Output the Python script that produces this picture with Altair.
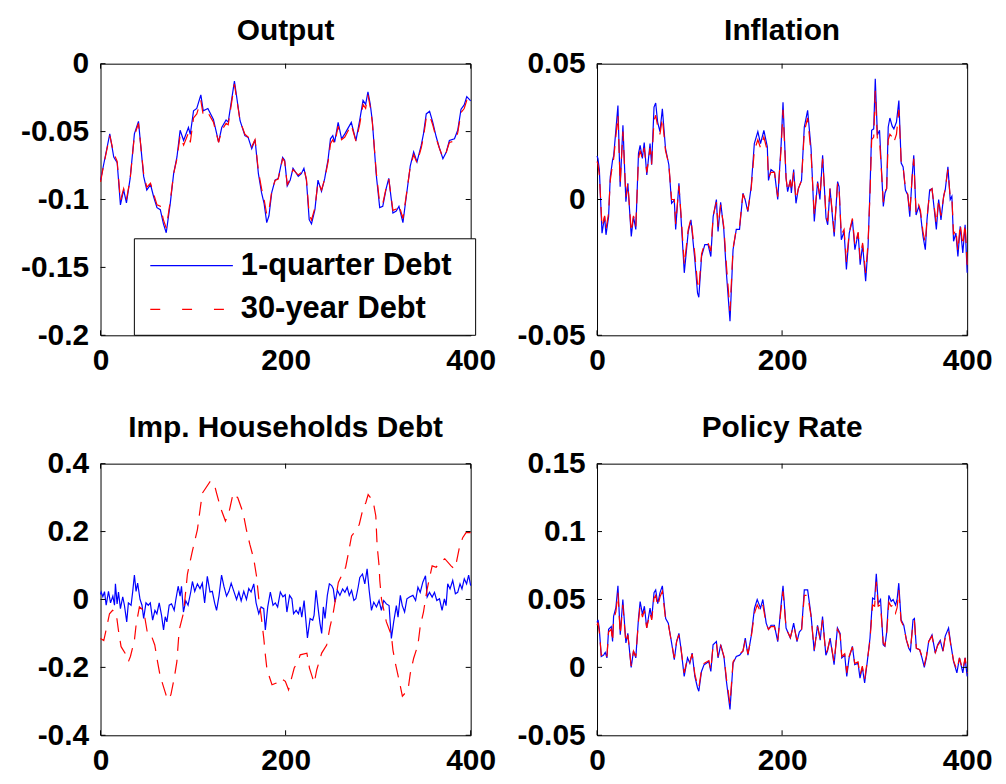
import altair as alt
import pandas as pd

# ---------------- data ----------------
XTICKS = [0, 200, 400]

# Output
out_t = [0, 3.6, 10, 14.3, 18, 21.5, 25, 28, 32, 36.6,
         41, 46.6, 50, 54, 57.4, 61, 64.6, 68, 71, 75.4,
         79, 82.6, 86, 89.8, 95, 97, 100.5, 104, 108.4, 111,
         116, 122, 127.6, 131, 135.7, 138, 144.7, 150.8, 156, 159.6,
         163.4, 167, 170.6, 174, 176.8, 179.6, 182, 185, 188.6, 192,
         196.8, 199, 201.8, 205, 208, 213.7, 217, 219.8, 222.5, 225.5,
         228, 231.7, 235, 238.8, 242.3, 246, 248.5, 251, 253, 256.8,
         260.5, 264, 271, 276, 280, 283.7, 286.5, 289, 291.5, 293.7,
         298, 301.7, 305, 308.8, 311.5, 316, 319.6, 322.5, 326.8, 330.4,
         334.7, 338.4, 342, 346.6, 349, 352, 355.6, 359, 362.8, 366,
         370, 373.7, 377, 382.5, 386, 389.6, 393, 395.8, 400]
out_short = [-0.086, -0.0735, -0.0517, -0.0687, -0.073, -0.104, -0.093, -0.1025, -0.0845, -0.0517,
             -0.0425, -0.083, -0.093, -0.089, -0.098, -0.106, -0.1075, -0.118, -0.1245, -0.1027,
             -0.081, -0.0687, -0.049, -0.0566, -0.047, -0.052, -0.0347, -0.033, -0.023, -0.0347,
             -0.033, -0.041, -0.0578, -0.047, -0.0415, -0.043, -0.0128, -0.042, -0.053, -0.0544,
             -0.0626, -0.056, -0.081, -0.095, -0.103, -0.117, -0.112, -0.095, -0.0857, -0.0845,
             -0.069, -0.071, -0.090, -0.0857, -0.077, -0.083, -0.081, -0.077, -0.0857, -0.1148,
             -0.118, -0.1075, -0.0857, -0.094, -0.0845, -0.07, -0.0553, -0.053, -0.0578, -0.0432,
             -0.0553, -0.0517, -0.0432, -0.0566, -0.042, -0.027, -0.030, -0.0207, -0.030, -0.042,
             -0.082, -0.106, -0.105, -0.0917, -0.0845, -0.110, -0.1085, -0.105, -0.117, -0.098,
             -0.0755, -0.065, -0.0723, -0.060, -0.0517, -0.037, -0.035, -0.043, -0.054, -0.0615,
             -0.07, -0.065, -0.0566, -0.0553, -0.049, -0.0335, -0.0304, -0.0243, -0.0274]
out_long = [-0.087, -0.074, -0.053, -0.066, -0.072, -0.101, -0.092, -0.100, -0.085, -0.053,
            -0.044, -0.081, -0.091, -0.088, -0.096, -0.104, -0.105, -0.115, -0.121, -0.101,
            -0.081, -0.070, -0.053, -0.060, -0.051, -0.058, -0.040, -0.037, -0.027, -0.038,
            -0.036, -0.043, -0.058, -0.049, -0.044, -0.045, -0.015, -0.042, -0.052, -0.054,
            -0.061, -0.056, -0.079, -0.092, -0.100, -0.111, -0.108, -0.094, -0.086, -0.085,
            -0.070, -0.072, -0.089, -0.085, -0.078, -0.082, -0.080, -0.077, -0.085, -0.111,
            -0.115, -0.106, -0.087, -0.093, -0.085, -0.072, -0.059, -0.056, -0.059, -0.046,
            -0.056, -0.054, -0.045, -0.057, -0.045, -0.030, -0.033, -0.023, -0.032, -0.043,
            -0.080, -0.103, -0.103, -0.091, -0.085, -0.108, -0.107, -0.104, -0.114, -0.097,
            -0.076, -0.067, -0.073, -0.062, -0.054, -0.040, -0.038, -0.045, -0.055, -0.062,
            -0.069, -0.065, -0.058, -0.057, -0.051, -0.036, -0.033, -0.027, -0.029]

# Inflation
inf_t = [0, 1, 2.5, 5.4, 8.2, 9.7, 12.5, 14.3, 16.8, 18,
         22.6, 25, 28, 31.2, 33.3, 37, 39.4, 41.9, 44.8, 46.6,
         49, 51, 53.8, 57.3, 59, 61.6, 63.4, 65.5, 68, 70.6,
         74, 77.6, 80.6, 83.5, 85, 88.5, 90.7, 94.3, 98.6, 101.5,
         105.7, 108.6, 110, 113, 116.5, 120, 123, 125.5, 129, 130.8,
         133.6, 137, 139.8, 143.7, 147, 150.5, 154, 157.7, 160, 163,
         166.6, 170, 173.8, 176.7, 180.3, 184, 185.3, 188, 191.8, 195.3,
         199, 201, 204.3, 206, 209, 210, 212.5, 215, 217.6, 221,
         224, 227.6, 231.3, 234.8, 238.4, 240.9, 243.8, 247.5, 249.3, 251.8,
         256.3, 260, 261.6, 264, 267, 269.5, 272.6, 276, 278.7, 282.2,
         284.4, 287, 290.3, 292.9, 295, 296.8, 299, 300.7, 303, 305.3,
         309.4, 311.2, 313, 314.7, 316.5, 319, 320.8, 323.6, 326.2, 328.7,
         330.8, 333.3, 335.8, 338, 340.5, 342.3, 344.8, 347.7, 349.5, 352.3,
         354.8, 356.6, 359.5, 362, 364.5, 366.7, 369.2, 371.7, 374.6, 376.3,
         379.2, 381.7, 383.5, 385.3, 387.8, 390, 392.5, 395.3, 397.8, 400]
inf_short = [0.016, 0.015, 0.011, -0.0124, -0.0063, -0.013, -0.0063, 0.0083, 0.0145, 0.016,
             0.0346, 0.0047, 0.0273, -0.0008, 0.006, -0.0136, -0.0063, -0.011, 0.0169, 0.0199,
             0.0151, 0.021, 0.009, 0.0206, 0.0128, 0.034, 0.0355, 0.0285, 0.025, 0.0334,
             0.0188, 0.0128, -0.0014, -0.0002, -0.011, 0.006, -0.0063, -0.027, -0.0118, -0.0075,
             -0.0222, -0.0344, -0.036, -0.0209, -0.0166, -0.0166, -0.021, -0.0063, 0.0, -0.0118,
             -0.001, -0.011, -0.027, -0.0448, -0.0185, -0.011, -0.011, 0.0023, 0.0, -0.0045,
             0.0047, 0.0206, 0.025, 0.0206, 0.0254, 0.0195, 0.007, 0.011, 0.010, 0.0,
             0.0206, 0.0358, 0.0078, 0.0029, 0.0073, 0.0024, 0.011, -0.0014, 0.004, 0.007,
             0.0267, 0.0328, 0.0188, -0.0081, 0.0066, 0.0, 0.0163, -0.0069, -0.0093, 0.004,
             -0.0136, 0.0066, 0.0047, -0.0148, -0.0118, -0.0258, -0.0124, -0.0075, -0.0185, -0.0124,
             -0.024, -0.0166, -0.0301, -0.0173, 0.0035, 0.0255, 0.026, 0.0444, 0.0237, 0.0255,
             -0.0026, 0.0024, 0.004, 0.0267, 0.030, 0.027, 0.026, 0.0285, 0.0364, 0.0134,
             0.012, 0.0035, 0.0017, -0.0063, 0.0083, 0.0163, -0.0057, -0.0026, -0.005, -0.0136,
             -0.0185, -0.0075, 0.0035, 0.004, -0.0038, -0.011, 0.0, -0.0075, 0.0012, 0.0035,
             0.012, 0.0, 0.0012, -0.0154, -0.0124, -0.021, -0.0099, -0.0197, -0.0093, -0.027]
inf_long = [0.014, 0.013, 0.009, -0.010, -0.006, -0.011, -0.005, 0.007, 0.013, 0.015,
            0.031, 0.006, 0.025, 0.001, 0.006, -0.012, -0.006, -0.010, 0.015, 0.018,
            0.015, 0.019, 0.010, 0.019, 0.013, 0.029, 0.031, 0.027, 0.024, 0.030,
            0.018, 0.013, 0.000, 0.000, -0.009, 0.005, -0.005, -0.024, -0.011, -0.007,
            -0.020, -0.031, -0.033, -0.020, -0.016, -0.016, -0.019, -0.006, -0.001, -0.010,
            -0.002, -0.010, -0.024, -0.041, -0.018, -0.011, -0.010, 0.002, 0.000, -0.004,
            0.004, 0.018, 0.022, 0.019, 0.023, 0.018, 0.008, 0.010, 0.010, 0.001,
            0.019, 0.033, 0.008, 0.003, 0.007, 0.003, 0.010, 0.000, 0.004, 0.007,
            0.025, 0.030, 0.017, -0.006, 0.006, 0.001, 0.015, -0.006, -0.008, 0.004,
            -0.012, 0.006, 0.004, -0.013, -0.011, -0.023, -0.012, -0.007, -0.017, -0.012,
            -0.022, -0.016, -0.027, -0.016, 0.002, 0.022, 0.023, 0.040, 0.022, 0.022,
            -0.001, 0.003, 0.004, 0.022, 0.024, 0.023, 0.021, 0.024, 0.033, 0.014,
            0.012, 0.004, 0.002, -0.005, 0.008, 0.015, -0.005, -0.002, -0.004, -0.012,
            -0.016, -0.007, 0.003, 0.004, -0.003, -0.009, 0.000, -0.006, 0.001, 0.004,
            0.011, 0.001, 0.001, -0.013, -0.011, -0.019, -0.009, -0.017, -0.009, -0.024]

# Impatient households debt
debt_short_t = [0, 0.7, 2.5, 4.3, 6.1, 8.6, 10.8, 13.3, 15.1, 16.1, 17.9,
                19.4, 21.5, 24, 25.8, 28.3, 30.1, 33, 34.8, 36.6, 38.4,
                40.1, 42.7, 44.8, 46.6, 49.1, 51.6, 53.8, 56.3, 58.8, 60.9,
                63.4, 65.9, 68.1, 69.9, 71.7, 74.2, 76.7, 79.6, 81.4, 83.9,
                86, 87.5, 89.6, 92.1, 94.6, 97.5, 99.3, 101.8, 104.7, 107.5,
                110, 112.5, 115.4, 118.3, 120.8, 123.3, 125.4, 128, 130.8, 133.3,
                136.2, 138.7, 141.2, 144.1, 147, 149.5, 152, 154.8, 157.7, 160.2,
                162.7, 165.6, 168.1, 171, 173.5, 176.4, 178.1, 180.7, 183.5, 186.4,
                188.9, 191.4, 194.3, 197.1,
                199.6, 201.4, 204.3, 206.8, 208.6, 211.4, 213.9, 215.7, 217.5, 220,
                223.6, 226.5, 229.3, 230.8, 232.9, 235.4, 237.2, 239, 240.8, 242.6,
                245.1, 247.3, 249.8, 251.6, 253.4, 255.9, 258.7, 261.6, 264.1, 266.6,
                268.8, 271.3, 273.8, 275.9, 278.4, 280.2, 283.1, 285.6, 288.1, 290.3,
                292.8, 295.3, 298.2, 301, 303.5, 306, 308.9, 311.8, 314.3, 316.8,
                319.7, 321.5, 324, 326.1, 328.6, 331.1, 334, 337.6, 340.5, 343,
                345.5, 348.3, 351.2, 353, 355.5, 358.4, 360.9, 363.4, 366.3, 369.1,
                371.6, 373.4, 375.2, 377.7, 380.6, 383.5, 386, 388.5, 390.6, 393.1,
                395.6, 397.8, 400]
debt_short = [0.015, 0.022, 0.008, 0.023, -0.017, 0.024, -0.01, 0.01, -0.017, 0.046, -0.013,
              0.022, -0.027, 0.008, -0.017, -0.066, -0.01, -0.017, 0.024, 0.072, 0.024,
              0.048, 0.0, -0.017, -0.056, -0.01, -0.017, -0.01, -0.061, -0.032, -0.042,
              -0.01, -0.046, -0.09, -0.051, -0.066, -0.017, -0.013, -0.032, 0.0, 0.039,
              0.01, 0.039, -0.037, -0.004, -0.017, 0.022, 0.053, 0.024, 0.046, 0.032,
              0.048, -0.01, 0.068, 0.022, 0.024, -0.01, -0.032, 0.01, 0.072, 0.039,
              0.01, 0.024, 0.048, 0.024, 0.0, 0.022, -0.004, 0.024, 0.0, 0.032,
              0.022, 0.046, -0.01, -0.042, -0.022, -0.027, -0.09, -0.022, 0.022, -0.017,
              -0.01, -0.022, 0.022, 0.008,
              0.014, -0.037, 0.012, 0.002, -0.042, -0.032, -0.042, -0.022, -0.052, -0.003,
              -0.113, -0.056, -0.061, -0.046, 0.027, -0.032, -0.071, -0.1, -0.022, -0.056,
              0.012, 0.046, 0.041, 0.031, -0.008, 0.027, 0.012, 0.031, 0.021, 0.036,
              0.012, 0.027, -0.003, 0.002, 0.036, 0.065, 0.075, 0.046, 0.09, 0.027,
              -0.032, -0.008, -0.022, -0.003, -0.032, -0.003, -0.013, -0.018, -0.115, -0.066,
              -0.018, -0.052, 0.012, -0.018, -0.037, 0.002, 0.007, 0.012, -0.003, 0.036,
              0.021, 0.051, 0.07, 0.007, 0.021, 0.007, 0.021, -0.003, 0.002, -0.032,
              0.002, -0.018, 0.046, 0.031, 0.056, 0.017, 0.021, 0.046, 0.031, 0.061,
              0.046, 0.072, 0.041]
debt_long_t = [0, 3.5, 6, 9.7, 13, 16.8, 19.3, 22.2, 27.6, 30.1,
               32.3, 36.6, 38.4, 42, 46.6, 50.9, 55, 58.6, 61.6, 64.5,
               69.5, 72.4, 76, 79.6, 82.5, 85, 89.8, 93.9, 99.3, 104.7,
               107.6, 110, 118.3, 122.6, 125.4, 129.7, 135, 138.7, 143.3, 148.4,
               154.1, 157.6, 161.3, 165.6, 168.5, 171, 173.5, 176.4, 178.1, 179.9,
               185.3, 190, 195, 199.7, 203.2, 209.3, 214, 215.8, 223, 225.8,
               230.9, 233.7, 239, 244.4, 248, 251.6, 257, 264.9, 267.7, 271.3,
               276.7, 279.6, 283.9, 286.7, 289.2, 294.6, 297.5, 298.9, 301, 301.8,
               303.6, 308.9, 314.3, 316, 319, 323.3, 326.2, 332.3, 334.8, 338.4,
               343, 345.4, 349, 352.6, 354.8, 358.4, 362.7, 366.3, 372, 378.8,
               382.4, 384.2, 387.8, 391.4, 395, 400]
debt_long = [-0.115, -0.121, -0.09, -0.042, -0.032, -0.038, -0.09, -0.139, -0.163, -0.183,
             -0.168, -0.12, -0.076, -0.022, -0.032, -0.103, -0.107, -0.134, -0.183, -0.226,
             -0.27, -0.295, -0.281, -0.232, -0.183, -0.09, -0.038, 0.075, 0.143, 0.206,
             0.265, 0.313, 0.347, 0.343, 0.313, 0.27, 0.231, 0.255, 0.313, 0.299,
             0.255, 0.206, 0.163, 0.119, 0.07, 0.002, -0.046, -0.114, -0.163, -0.207,
             -0.251, -0.246, -0.232, -0.241, -0.266, -0.202, -0.178, -0.163, -0.158, -0.202,
             -0.246, -0.207, -0.158, -0.134, -0.081, -0.037, 0.05, 0.095, 0.134, 0.187,
             0.206, 0.221, 0.27, 0.285, 0.309, 0.289, 0.246, 0.159, 0.10, 0.056,
             0.002, -0.066, -0.105, -0.149, -0.193, -0.246, -0.285, -0.266, -0.217, -0.173,
             -0.134, -0.081, -0.037, 0.025, 0.054, 0.099, 0.095, 0.109, 0.12, 0.099,
             0.09, 0.104, 0.153, 0.182, 0.197, 0.197]

# Policy rate
pol_t = [0, 1.1, 2.5, 4.6, 7.1, 8.9, 10.7, 12.5, 15.4, 16.8,
         17.9, 20.4, 22.6, 25.1, 27.9, 31.2, 33.3, 36.9, 39.4, 41.9,
         44.8, 46.6, 49.1, 51.2, 53.7, 57.3, 59.1, 61.6, 63.4, 65.6,
         68.1, 70.6, 74.2, 77, 80.6, 83.5, 86, 88.5, 90.7, 94.2,
         97.8, 100.3, 102.8, 105.7, 108.6, 110, 112.9, 115.7, 118.3, 120.8,
         123, 125.4, 129, 130.8, 133.7, 137.3, 139.8, 143.7, 147, 150.5,
         154.1, 157.7, 160.2, 163.1, 166.6, 170.2, 173.1, 176.7, 179.2, 182.8,
         185.3, 188.1, 191.7, 195.3, 198.9, 201, 204.3, 206.1, 208.9, 212.5,
         216.1, 218.6, 221.1, 224, 227.6, 231.2, 234.7, 238.3, 241.2, 243.7,
         247.3, 249.1, 251.9, 256.2, 259.8, 262.7, 264.5, 267.7, 269.9, 272.4,
         276, 278.5, 282.1, 284.2, 286.7, 289.2, 292.1, 295, 297.8, 300,
         301.8, 303.9, 306.4, 309.3, 311.1, 312.9, 315.4, 317.9, 320, 322.6,
         324.3, 326.1, 328.6, 331.5, 334.4, 336.9, 338.7, 341.5, 343, 345.1,
         348.7, 351.2, 353.7, 355.9, 358.4, 362, 365.6, 368.1, 370.9, 373.8,
         376.3, 379.9, 382.4, 385.3, 388.9, 391.7, 395.3, 397.8, 400]
pol_short = [0.033, 0.035, 0.028, 0.008, 0.009, 0.011, 0.007, 0.028, 0.030, 0.019,
             0.0375, 0.044, 0.060, 0.024, 0.050, 0.018, 0.025, 0.0, 0.012, 0.007,
             0.036, 0.0485, 0.039, 0.045, 0.029, 0.0436, 0.036, 0.055, 0.057, 0.047,
             0.055, 0.060, 0.036, 0.0326, 0.018, 0.0056, 0.019, 0.025, 0.014, -0.0066,
             0.007, 0.003, 0.0105, -0.0066, -0.015, -0.0176, -0.003, 0.002, 0.003, 0.0044,
             -0.003, 0.0167, 0.019, 0.007, 0.0167, 0.007, -0.010, -0.031, 0.003, 0.008,
             0.009, 0.012, 0.0216, 0.009, 0.023, 0.0436, 0.050, 0.0436, 0.050, 0.0326,
             0.028, 0.031, 0.031, 0.019, 0.046, 0.060, 0.029, 0.026, 0.0216, 0.0326,
             0.019, 0.026, 0.028, 0.057, 0.057, 0.039, 0.012, 0.031, 0.020, 0.0375,
             0.009, 0.012, 0.0216, 0.002, 0.029, 0.025, 0.007, 0.009, -0.0066, 0.007,
             0.0155, 0.002, 0.003, -0.008, 0.0, -0.0115, 0.0044, 0.0216, 0.051, 0.050,
             0.069, 0.047, 0.050, 0.0167, 0.0155, 0.025, 0.053, 0.0485, 0.050, 0.046,
             0.050, 0.062, 0.035, 0.031, 0.020, 0.014, 0.012, 0.035, 0.036, 0.014,
             0.013, 0.007, 0.0, 0.007, 0.019, 0.024, 0.0105, 0.0167, 0.020, 0.012,
             0.023, 0.029, 0.0167, 0.0044, -0.004, 0.007, -0.004, 0.007, -0.0066]
pol_long = [0.031, 0.033, 0.026, 0.009, 0.010, 0.012, 0.008, 0.026, 0.028, 0.019,
            0.035, 0.041, 0.055, 0.024, 0.046, 0.018, 0.024, 0.001, 0.012, 0.008,
            0.034, 0.045, 0.037, 0.042, 0.029, 0.040, 0.035, 0.051, 0.053, 0.045,
            0.052, 0.056, 0.035, 0.032, 0.018, 0.007, 0.019, 0.024, 0.014, -0.004,
            0.007, 0.004, 0.010, -0.005, -0.013, -0.015, -0.002, 0.003, 0.004, 0.005,
            -0.002, 0.016, 0.018, 0.008, 0.016, 0.008, -0.008, -0.027, 0.004, 0.008,
            0.010, 0.012, 0.020, 0.010, 0.022, 0.040, 0.046, 0.041, 0.046, 0.032,
            0.028, 0.030, 0.030, 0.020, 0.043, 0.056, 0.029, 0.026, 0.022, 0.031,
            0.020, 0.026, 0.028, 0.053, 0.053, 0.038, 0.013, 0.030, 0.021, 0.035,
            0.010, 0.013, 0.021, 0.004, 0.028, 0.024, 0.008, 0.010, -0.004, 0.008,
            0.015, 0.003, 0.004, -0.006, 0.001, -0.009, 0.005, 0.020, 0.046, 0.045,
            0.063, 0.045, 0.046, 0.018, 0.016, 0.024, 0.048, 0.045, 0.046, 0.040,
            0.044, 0.057, 0.034, 0.030, 0.020, 0.015, 0.013, 0.033, 0.034, 0.014,
            0.013, 0.008, 0.002, 0.008, 0.019, 0.023, 0.011, 0.016, 0.019, 0.012,
            0.022, 0.027, 0.016, 0.005, -0.002, 0.007, -0.002, 0.007, -0.004]

SERIES = ["1-quarter Debt", "30-year Debt"]

# ---------------- chart ----------------
W, H = 372, 273
FONT = "Liberation Sans"
BLUE, RED = "#0000ff", "#ff0000"
LEXPR = "replace(format(datum.value, '~g'), '\u2212', '-')"


def axis(values, pad):
    return alt.Axis(values=values, labelExpr=LEXPR, domain=False, ticks=False,
                    grid=False, title=None, labelPadding=pad, labelFontSize=30,
                    labelFont=FONT, labelFontWeight="bold", labelColor="black",
                    labelFlush=False, labelOverlap=False)


def panel(title, tb, vb, tr, vr, ydom, yticks, toff, legend=False):
    xs = alt.Scale(domain=[0, 400], nice=False, zero=False)
    ys = alt.Scale(domain=ydom, nice=False, zero=False)
    xax = axis(XTICKS, 10)
    yax = axis(yticks, 12)
    X = alt.X("t:Q", scale=xs, axis=xax)
    Y = alt.Y("v:Q", scale=ys, axis=yax)
    blue = alt.Chart(pd.DataFrame({"t": tb, "v": vb})).mark_line(
        color=BLUE, strokeWidth=1.2).encode(x=X, y=Y)
    red = alt.Chart(pd.DataFrame({"t": tr, "v": vr})).mark_line(
        color=RED, strokeWidth=1.2, strokeDash=[14, 9]).encode(x=X, y=Y)
    ydf = pd.DataFrame({"v": yticks})
    xdf = pd.DataFrame({"t": XTICKS})
    tl = alt.Chart(ydf).mark_rule(color="black").encode(y=Y, x=alt.value(0), x2=alt.value(5))
    tr_ = alt.Chart(ydf).mark_rule(color="black").encode(y=Y, x=alt.value(W - 5), x2=alt.value(W))
    tb_ = alt.Chart(xdf).mark_rule(color="black").encode(x=X, y=alt.value(H - 5), y2=alt.value(H))
    tt = alt.Chart(xdf).mark_rule(color="black").encode(x=X, y=alt.value(0), y2=alt.value(5))
    layers = [blue, red, tl, tr_, tb_, tt]
    if legend:
        one = pd.DataFrame({"a": [0]})
        box = alt.Chart(one).mark_rect(fill="white", stroke="black", strokeWidth=1).encode(
            x=alt.value(34), x2=alt.value(377), y=alt.value(176), y2=alt.value(273))
        l1 = alt.Chart(one).mark_rule(color=BLUE, strokeWidth=1.2).encode(
            x=alt.value(50), x2=alt.value(133), y=alt.value(203))
        l2 = alt.Chart(one).mark_rule(color=RED, strokeWidth=1.2, strokeDash=[10, 22]).encode(
            x=alt.value(50), x2=alt.value(133), y=alt.value(247))
        txt = dict(align="left", baseline="middle", fontSize=31, fontWeight="bold",
                   font=FONT, color="black")
        t1 = alt.Chart(one).mark_text(**txt).encode(
            x=alt.value(141), y=alt.value(203), text=alt.value(SERIES[0]))
        t2 = alt.Chart(one).mark_text(**txt).encode(
            x=alt.value(141), y=alt.value(247), text=alt.value(SERIES[1]))
        layers += [box, l1, l2, t1, t2]
    return alt.layer(*layers).properties(
        width=W, height=H,
        title=alt.TitleParams(title, fontSize=30, fontWeight="bold", font=FONT,
                              color="black", offset=toff, anchor="middle"))


p1 = panel("Output", out_t, out_short, out_t, out_long, [-0.2, 0],
           [-0.2, -0.15, -0.1, -0.05, 0], 3, legend=True)
p2 = panel("Inflation", inf_t, inf_short, inf_t, inf_long, [-0.05, 0.05],
           [-0.05, 0, 0.05], 3)
p3 = panel("Imp. Households Debt", debt_short_t, debt_short, debt_long_t, debt_long,
           [-0.4, 0.4], [-0.4, -0.2, 0, 0.2, 0.4], 6)
p4 = panel("Policy Rate", pol_t, pol_short, pol_t, pol_long, [-0.05, 0.15],
           [-0.05, 0, 0.05, 0.1, 0.15], 6)

chart = alt.concat(p1, p2, p3, p4, columns=2, spacing={"row": 129, "column": 127},
                   bounds="flush").configure_view(
    stroke="black", strokeWidth=1).properties(
    padding={"left": 12, "top": 5, "right": 5, "bottom": 5}, background="white")

chart.save("out.html", embed_options={"renderer": "svg", "actions": False})
